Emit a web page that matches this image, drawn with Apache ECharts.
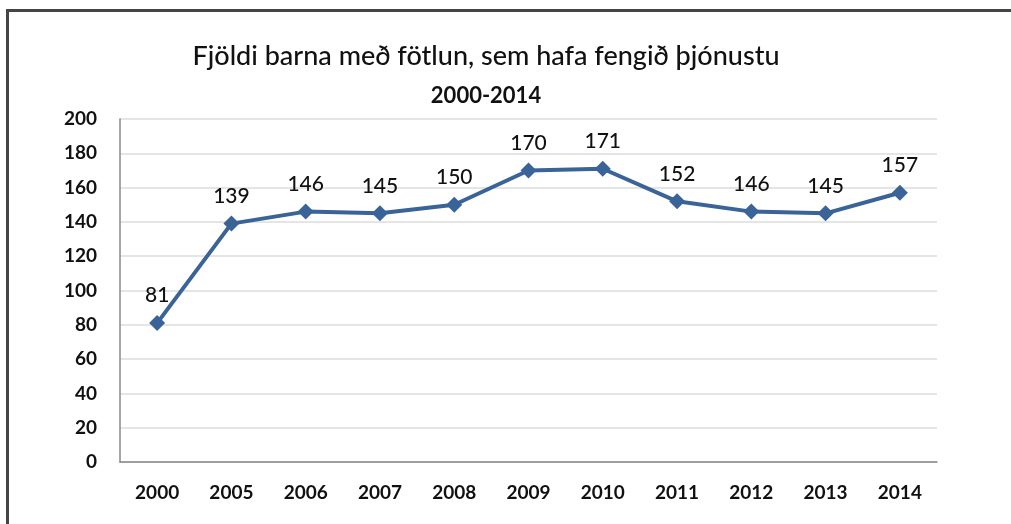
<!DOCTYPE html>
<html>
<head>
    <meta charset="UTF-8">
    <title>Fjöldi barna</title>
    <script src="https://cdn.jsdelivr.net/npm/echarts@6/dist/echarts.min.js"></script>
    <style>
        html, body { margin: 0; padding: 0; background: #fff; }
        #frame {
            position: absolute;
            left: 6px; top: 9px;
            width: 1011px; height: 520px;
            border-top: 3px solid #454545;
            border-left: 3px solid #454545;
        }
        #echart {
            position: absolute;
            left: 0; top: 0;
            width: 1011px; height: 524px;
        }
    </style>
</head>
<body>
    <div id="frame"></div>
    <div id="echart"></div>
    <script type="text/javascript">
        // gögn lesin af myndinni
        var years = ['2000', '2005', '2006', '2007', '2008', '2009', '2010', '2011', '2012', '2013', '2014'];
        var counts = [81, 139, 146, 145, 150, 170, 171, 152, 146, 145, 157];
        var yTicks = [0, 20, 40, 60, 80, 100, 120, 140, 160, 180, 200];

        var chart = echarts.init(document.getElementById('echart'));
        var font = 'Lato, "Open Sans", sans-serif';

        var option = {
            animation: false,
            title: [
                {
                    text: 'Fjöldi barna með fötlun, sem hafa fengið þjónustu',
                    left: 481, top: 38, textAlign: 'center',
                    textStyle: { fontFamily: font, fontSize: 27, fontWeight: 500, color: '#111' }
                },
                {
                    text: '2000-2014',
                    left: 481, top: 80, textAlign: 'center',
                    textStyle: { fontFamily: font, fontSize: 22, fontWeight: 'bold', color: '#111' }
                }
            ],
            grid: { left: 120, right: 74, top: 119, bottom: 62 },
            xAxis: {
                type: 'category',
                data: years,
                boundaryGap: true,
                axisLine: { lineStyle: { color: '#888', width: 1.5 } },
                axisTick: { show: false },
                axisLabel: { margin: 21, fontFamily: font, fontSize: 19, fontWeight: 'bold', color: '#111' }
            },
            yAxis: {
                type: 'value',
                min: yTicks[0],
                max: yTicks[yTicks.length - 1],
                interval: 20,
                axisLine: { show: true, lineStyle: { color: '#888', width: 1.5 } },
                axisTick: { show: false },
                splitLine: { lineStyle: { color: '#dcdcdc', width: 1.5 } },
                axisLabel: { margin: 23, fontFamily: font, fontSize: 19, fontWeight: 'bold', color: '#111' }
            },
            series: [{
                type: 'line',
                data: counts,
                symbol: 'diamond',
                symbolSize: 16,
                lineStyle: { color: '#3a6398', width: 4 },
                itemStyle: { color: '#3a6398' },
                label: {
                    show: true,
                    position: 'top',
                    distance: 9,
                    fontFamily: font,
                    fontSize: 21,
                    fontWeight: 500,
                    color: '#111'
                }
            }]
        };

        chart.setOption(option);
    </script>
</body>
</html>
